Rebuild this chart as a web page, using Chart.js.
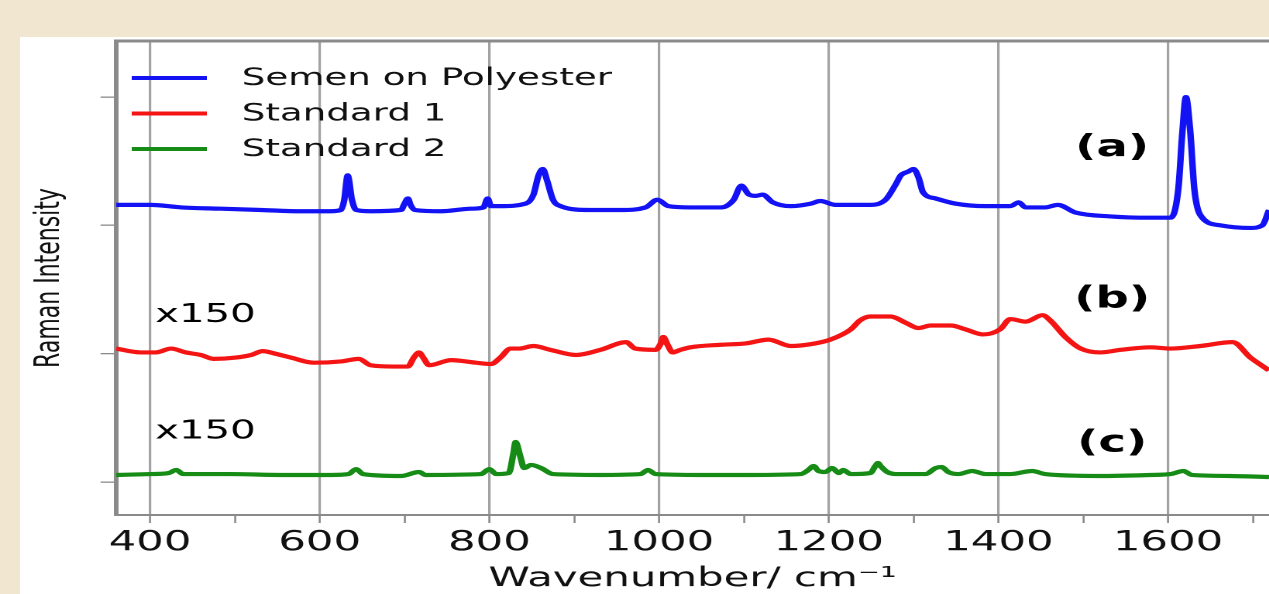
<!DOCTYPE html>
<html>
<head>
<meta charset="utf-8">
<title>Raman – Semen on Polyester</title>
<script src="https://cdn.jsdelivr.net/npm/chart.js@4/dist/chart.umd.min.js"></script>
<style>
  html, body { margin: 0; padding: 0; overflow: hidden; background: #f1e7d0; }
  #papel { position: absolute; left: 20px; top: 37px; right: 0; bottom: 0; background: #fff; }
  /* a figura original está esticada na horizontal: desenha estreito e estica com CSS */
  #caixa { position: absolute; left: 0; top: 0; transform-origin: 0 0; transform: scaleX(1.5495); }
</style>
</head>
<body>
<div id="papel"></div>
<div id="caixa"><canvas id="grafico" width="819" height="594"></canvas></div>
<script>
/* Espectros Raman: (a) sêmen sobre poliéster, (b) e (c) padrões x150 */

const TICKS_X = [400, 500, 600, 700, 800, 900, 1000, 1100, 1200, 1300, 1400, 1500, 1600, 1700];
const TICKS_Y = [0, 1, 2, 3];

const ONDA_A = [360, 401, 437, 484, 531, 578, 613, 625, 629, 633, 638, 643, 660, 696, 700, 704, 707, 712, 743, 778,
                793, 798, 802, 813, 843, 852, 858, 863, 868, 875, 884, 919, 955, 984, 998, 1011, 1037, 1073, 1088, 1097,
                1106, 1114, 1122, 1134, 1155, 1179, 1190, 1208, 1249, 1267, 1279, 1285, 1294, 1300, 1306, 1311, 1326, 1349, 1385, 1414,
                1424, 1432, 1455, 1470, 1491, 1532, 1579, 1603, 1612, 1617, 1621, 1626, 1631, 1638, 1662, 1697, 1711, 1719];
const INT_A = [2.16, 2.16, 2.14, 2.13, 2.12, 2.11, 2.11, 2.12, 2.20, 2.39, 2.20, 2.12, 2.11, 2.12, 2.17, 2.21, 2.16, 2.12, 2.11, 2.13,
               2.14, 2.21, 2.15, 2.15, 2.17, 2.24, 2.39, 2.44, 2.35, 2.20, 2.15, 2.12, 2.12, 2.14, 2.20, 2.15, 2.14, 2.14, 2.20, 2.31,
               2.24, 2.23, 2.24, 2.18, 2.15, 2.17, 2.19, 2.16, 2.16, 2.20, 2.32, 2.39, 2.42, 2.44, 2.37, 2.26, 2.21, 2.17, 2.15, 2.15,
               2.18, 2.14, 2.14, 2.16, 2.10, 2.07, 2.06, 2.06, 2.28, 2.74, 3.00, 2.74, 2.28, 2.08, 2.00, 1.98, 2.00, 2.12];

const ONDA_B = [360, 389, 407, 425, 442, 460, 475, 501, 519, 533, 548, 566, 593, 625, 646, 660, 687, 704, 711, 717,
                722, 729, 755, 784, 802, 813, 825, 835, 852, 872, 902, 931, 961, 972, 996, 1002, 1005, 1010, 1016, 1025,
                1037, 1073, 1102, 1129, 1155, 1184, 1202, 1226, 1237, 1249, 1273, 1291, 1306, 1320, 1344, 1361, 1382, 1402, 1414, 1432,
                1452, 1461, 1479, 1497, 1520, 1544, 1579, 1603, 1638, 1676, 1697, 1719];
const INT_B = [1.04, 1.01, 1.01, 1.04, 1.01, 0.99, 0.96, 0.97, 0.99, 1.02, 1.00, 0.97, 0.93, 0.94, 0.96, 0.91, 0.90, 0.90, 0.97, 1.01,
               0.97, 0.91, 0.95, 0.93, 0.92, 0.97, 1.04, 1.04, 1.06, 1.03, 0.99, 1.03, 1.09, 1.04, 1.03, 1.08, 1.13, 1.07, 1.01, 1.03,
               1.05, 1.07, 1.08, 1.11, 1.06, 1.08, 1.11, 1.19, 1.26, 1.29, 1.29, 1.24, 1.20, 1.22, 1.22, 1.19, 1.15, 1.19, 1.27, 1.25,
               1.30, 1.26, 1.13, 1.04, 1.01, 1.03, 1.05, 1.04, 1.06, 1.09, 0.97, 0.87];

const ONDA_C = [360, 401, 422, 431, 439, 495, 554, 613, 634, 643, 651, 696, 717, 725, 790, 800, 808, 823, 828, 831,
                836, 841, 849, 861, 875, 931, 978, 987, 996, 1049, 1108, 1167, 1176, 1182, 1188, 1196, 1204, 1212, 1217, 1226,
                1249, 1255, 1258, 1261, 1269, 1279, 1314, 1326, 1333, 1341, 1353, 1369, 1385, 1414, 1440, 1455, 1520, 1579, 1603, 1618,
                1628, 1673, 1719];
const INT_C = [0.055, 0.062, 0.070, 0.094, 0.062, 0.062, 0.055, 0.055, 0.062, 0.101, 0.062, 0.047, 0.078, 0.055, 0.062, 0.101, 0.062, 0.070, 0.210, 0.312,
               0.210, 0.109, 0.133, 0.109, 0.062, 0.055, 0.062, 0.094, 0.062, 0.055, 0.055, 0.062, 0.094, 0.125, 0.086, 0.078, 0.109, 0.070, 0.094, 0.062,
               0.070, 0.125, 0.148, 0.125, 0.078, 0.062, 0.062, 0.109, 0.117, 0.078, 0.062, 0.086, 0.062, 0.062, 0.086, 0.062, 0.047, 0.055, 0.062, 0.086,
               0.055, 0.047, 0.039];

// anotações dentro do gráfico, em coordenadas de dados
const ROTULOS = [
  { texto: "(a)", onda: 1534, int: 2.60, negrito: true },
  { texto: "(b)", onda: 1534, int: 1.42, negrito: true },
  { texto: "(c)", onda: 1534, int: 0.30, negrito: true },
  { texto: "x150", onda: 406, int: 1.30, negrito: false },
  { texto: "x150", onda: 406, int: 0.39, negrito: false },
];

const AZUL = "#1212f4", VERMELHO = "#f41414", VERDE = "#168c16";
const GRADE = "#a2a2a2", EIXO = "#8a8a8a", TEXTO = "#111";
const FONTE = "'DejaVu Sans', Verdana, sans-serif";

const pares = (xs, ys) => xs.map((x, i) => ({ x, y: ys[i] }));

const rotulosPlugin = {
  id: "rotulos",
  afterDraw(chart) {
    const { ctx, scales: { x, y } } = chart;
    ctx.save();
    ctx.textBaseline = "middle";
    // legenda no canto superior esquerdo da área do gráfico
    chart.data.datasets.forEach((ds, i) => {
      const yy = 78 + i * 35.5;
      ctx.strokeStyle = ds.borderColor;
      ctx.lineWidth = 4;
      ctx.beginPath();
      ctx.moveTo(85, yy);
      ctx.lineTo(133.5, yy);
      ctx.stroke();
      ctx.fillStyle = TEXTO;
      ctx.textAlign = "left";
      ctx.font = `24px ${FONTE}`;
      ctx.fillText(ds.label, 156, yy + 1);
    });
    for (const r of ROTULOS) {
      ctx.fillStyle = "#000";
      ctx.font = r.negrito ? `bold 30px ${FONTE}` : `26px ${FONTE}`;
      ctx.textAlign = r.negrito ? "center" : "left";
      ctx.fillText(r.texto, x.getPixelForValue(r.onda), y.getPixelForValue(r.int));
    }
    ctx.restore();
  },
};

const linha = (label, xs, ys, cor) => ({
  label, data: pares(xs, ys), borderColor: cor, backgroundColor: cor,
  borderWidth: 4.2, pointRadius: 0, fill: false, cubicInterpolationMode: "monotone",
});

new Chart(document.getElementById("grafico"), {
  type: "line",
  data: {
    datasets: [
      linha("Semen on Polyester", ONDA_A, INT_A, AZUL),
      linha("Standard 1", ONDA_B, INT_B, VERMELHO),
      linha("Standard 2", ONDA_C, INT_C, VERDE),
    ],
  },
  options: {
    responsive: false,
    animation: false,
    devicePixelRatio: 2,
    layout: { padding: 0 },
    plugins: { legend: { display: false }, tooltip: { enabled: false } },
    scales: {
      x: {
        type: "linear", position: "bottom", min: 360, max: 1719,
        afterBuildTicks: s => { s.ticks = TICKS_X.map(v => ({ value: v })); },
        afterFit: s => { s.height = 79; s.paddingLeft = 0; s.paddingRight = 0; },
        grid: {
          color: c => (c.tick && c.tick.value % 200 === 0 ? GRADE : "rgba(0,0,0,0)"),
          lineWidth: 1.6, tickColor: EIXO, tickLength: 8, tickWidth: 1.3,
        },
        border: { color: EIXO, width: 2 },
        ticks: {
          callback: v => (v % 200 === 0 ? v : ""),
          autoSkip: false, maxRotation: 0, padding: 3, color: TEXTO,
          font: { family: FONTE, size: 28 },
        },
        title: {
          display: true, text: "Wavenumber/ cm⁻¹", color: TEXTO, padding: 0,
          font: { family: FONTE, size: 27, lineHeight: 1.1 },
        },
      },
      xTopo: {
        type: "linear", position: "top", min: 360, max: 1719,
        afterFit: s => { s.height = 41; },
        grid: { display: false, drawTicks: false },
        ticks: { display: false },
        border: { color: EIXO, width: 3 },
      },
      y: {
        min: -0.257, max: 3.437,
        afterBuildTicks: s => { s.ticks = TICKS_Y.map(v => ({ value: v })); },
        afterFit: s => { s.width = 74.9; },
        grid: { drawOnChartArea: false, color: EIXO, tickLength: 10, lineWidth: 1.3 },
        border: { color: EIXO, width: 3 },
        ticks: { display: false },
        title: {
          display: true, text: "Raman Intensity", color: TEXTO,
          padding: { top: 19, bottom: 0 },
          font: { family: FONTE, size: 22 },
        },
      },
    },
  },
  plugins: [rotulosPlugin],
});
</script>
</body>
</html>
